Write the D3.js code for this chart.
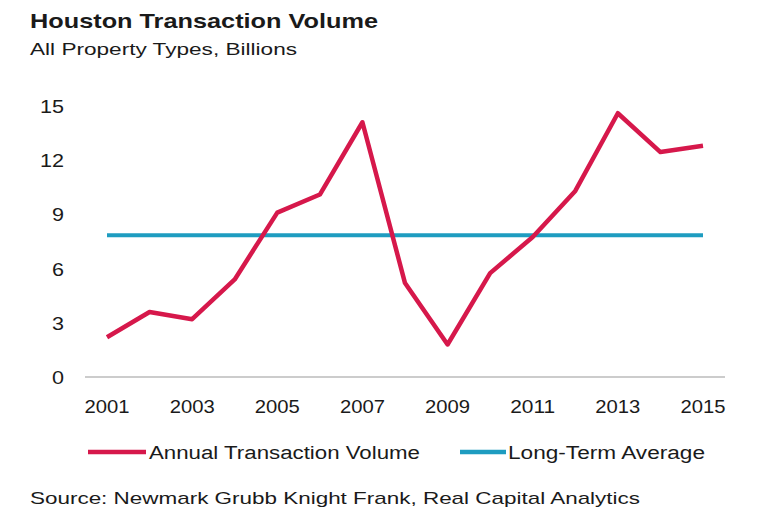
<!DOCTYPE html>
<html><head><meta charset="utf-8">
<script src="https://cdn.jsdelivr.net/npm/d3@7"></script>
<style>body{margin:0;background:#fff;font-family:"Liberation Sans",Arial,sans-serif;}</style>
</head><body>
<svg id="c" width="768" height="522"></svg>
<script>
const years = [2001,2002,2003,2004,2005,2006,2007,2008,2009,2010,2011,2012,2013,2014,2015];
const volume = [2.2,3.6,3.2,5.4,9.1,10.1,14.1,5.2,1.8,5.75,7.75,10.3,14.6,12.45,12.8];
const longTermAverage = 7.85;
const yTicks = [0,3,6,9,12,15];
const xTicks = [2001,2003,2005,2007,2009,2011,2013,2015];

const svg = d3.select("#c");
const x = d3.scaleLinear().domain([2001,2015]).range([107,703]);
const y = d3.scaleLinear().domain([0,15]).range([377,106]);
const red = "#d6184b", teal = "#1e9cc0";

function txt(xp, yp, s, size, len, opts={}) {
  const t = svg.append("text").attr("x",xp).attr("y",yp).attr("font-size",size).attr("fill","#1a1a1a").text(s);
  if (len) t.attr("textLength",len).attr("lengthAdjust","spacingAndGlyphs");
  if (opts.bold) t.attr("font-weight","bold");
  if (opts.anchor) t.attr("text-anchor",opts.anchor);
  return t;
}

txt(30,28,"Houston Transaction Volume",21,348,{bold:true});
txt(30,55,"All Property Types, Billions",17,267);

svg.append("line").attr("x1",85).attr("x2",725).attr("y1",y(0)).attr("y2",y(0)).attr("stroke","#bbb").attr("stroke-width",1.5);

yTicks.forEach(d => txt(64,y(d)+7,String(d),18,String(d).length*12,{anchor:"end"}));
xTicks.forEach(d => txt(x(d),413,String(d),18,45,{anchor:"middle"}));

svg.append("path").datum(years).attr("fill","none").attr("stroke",teal).attr("stroke-width",4)
 .attr("d",d3.line().x(d=>x(d)).y(()=>y(longTermAverage)));
svg.append("path").datum(years).attr("fill","none").attr("stroke",red).attr("stroke-width",4.5).attr("stroke-linejoin","round")
 .attr("d",d3.line().x(d=>x(d)).y((d,i)=>y(volume[i])));

svg.append("line").attr("x1",88).attr("x2",146).attr("y1",452).attr("y2",452).attr("stroke",red).attr("stroke-width",4.5);
txt(149,459,"Annual Transaction Volume",18,271);
svg.append("line").attr("x1",460).attr("x2",506).attr("y1",452).attr("y2",452).attr("stroke",teal).attr("stroke-width",4.5);
txt(508,459,"Long-Term Average",18,197);

txt(30,504,"Source: Newmark Grubb Knight Frank, Real Capital Analytics",17,610);
</script></body></html>
